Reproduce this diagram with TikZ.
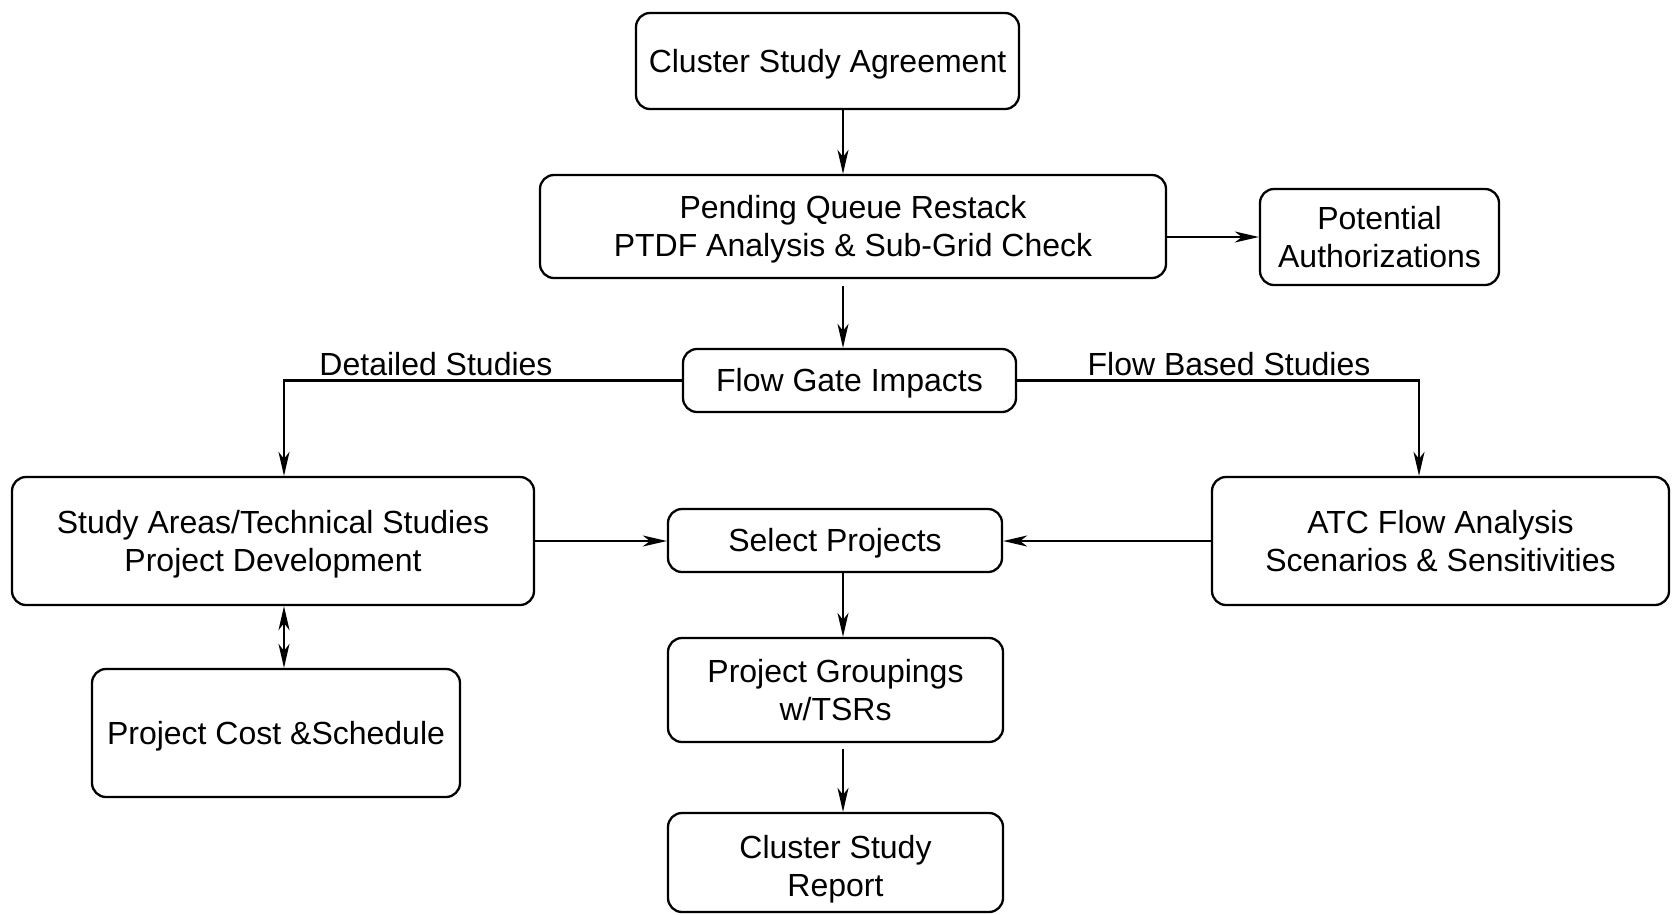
\documentclass[tikz,border=0pt]{standalone}
\usepackage{fontspec}
\setmainfont{Liberation Sans}
\usetikzlibrary{arrows.meta}
\newcommand\topstr[1][29pt]{\rule{0pt}{#1}}
\newcommand\botstr{\rule[-7pt]{0pt}{7pt}}
\tikzset{
  box/.style={draw, line width=2.3pt, rounded corners=14pt, align=center, inner sep=0pt,
    font=\fontsize{32}{38}\selectfont},
  tip/.tip={Stealth[length=24pt,width=11pt,inset=7pt]},
  conn/.style={line width=2.3pt, -tip},
  lbl/.style={anchor=base, inner sep=0pt, font=\fontsize{32}{38}\selectfont}
}
\begin{document}
\begin{tikzpicture}[x=1pt,y=-1pt]
\useasboundingbox (0,0) rectangle (1672,914);
\coordinate (ax) at (843,0);
\coordinate (lx) at (284,0);
\coordinate (rx) at (1419,0);
\node[box, minimum width=383pt, minimum height=96pt] (csa) at (827.5,61) {\topstr Cluster Study Agreement\botstr};
\node[box, minimum width=626pt, minimum height=103pt] (pend) at (853,226.5) {\topstr Pending Queue Restack\\PTDF Analysis \& Sub-Grid Check\botstr};
\node[box, minimum width=239pt, minimum height=96pt] (pot) at (1379.5,237) {\topstr Potential\\Authorizations\botstr};
\node[box, minimum width=333pt, minimum height=63pt] (fgi) at (849.5,380.5) {\topstr Flow Gate Impacts\botstr};
\node[box, minimum width=522pt, minimum height=128pt] (sa) at (273,541) {\topstr Study Areas/Technical Studies\\Project Development\botstr};
\node[box, minimum width=457pt, minimum height=128pt] (atc) at (1440.5,541) {\topstr ATC Flow Analysis\\Scenarios \& Sensitivities\botstr};
\node[box, minimum width=334pt, minimum height=63pt] (sel) at (835,540.5) {\topstr Select Projects\botstr};
\node[box, minimum width=368pt, minimum height=128pt] (pcs) at (276,733) {\topstr Project Cost \&Schedule\botstr};
\node[box, minimum width=335pt, minimum height=104pt] (grp) at (835.5,690) {\topstr Project Groupings\\w/TSRs\botstr};
\node[box, minimum width=335pt, minimum height=99pt] (rep) at (835.5,862.5) {\topstr[37pt]Cluster Study\\Report\botstr};
\node[lbl] (ld) at (436,375) {Detailed Studies};
\node[lbl] (lf) at (1229,375) {Flow Based Studies};
\draw[conn] (csa.south -| ax) -- (pend.north -| ax);
\draw[conn, shorten <=7pt] (pend.south -| ax) -- (fgi.north -| ax);
\draw[conn] (pend.east |- pot.west) -- (pot.west);
\draw[conn] (fgi.west) -| (sa.north -| lx);
\draw[conn] (fgi.east) -| (atc.north -| rx);
\draw[conn] (sa.east) -- (sa.east -| sel.west);
\draw[conn] (atc.west) -- (atc.west -| sel.east);
\draw[conn] (sel.south -| ax) -- (grp.north -| ax);
\draw[conn, shorten <=6pt] (grp.south -| ax) -- (rep.north -| ax);
\draw[conn, tip-tip] (sa.south -| lx) -- (pcs.north -| lx);
\end{tikzpicture}
\end{document}
